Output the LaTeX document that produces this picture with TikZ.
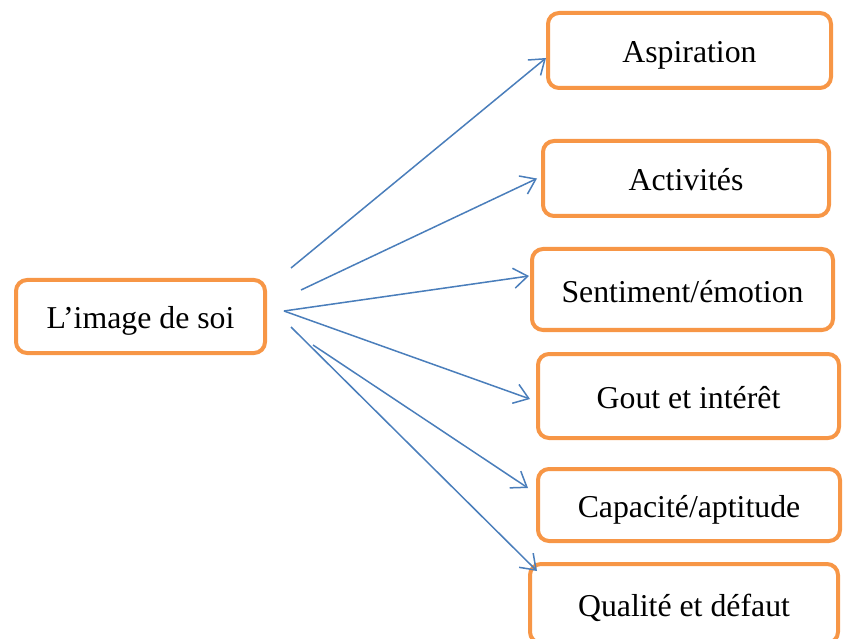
\documentclass[tikz,border=0pt]{standalone}
\usepackage{fontspec}
\setmainfont{Liberation Serif}
\usetikzlibrary{arrows.meta}
\definecolor{boxorange}{HTML}{F79646}
\definecolor{arrowblue}{HTML}{4A7EBB}
\begin{document}
\begin{tikzpicture}[x=1pt,y=-1pt,
  box/.style={draw=boxorange, line width=4pt, rounded corners=11pt, fill=white,
    inner sep=0pt, outer sep=0pt, align=center, text height=30pt, text depth=5pt,
    font=\fontsize{31.8}{38}\selectfont},
  arr/.style={draw=arrowblue, line width=1.5pt,
    -{Straight Barb[length=14pt,width=20pt,line width=1.5pt]}}]
\useasboundingbox (0,0) rectangle (844,639);
\node[box, minimum width=249pt, minimum height=73pt] (main) at (140.5,316.5) {L’image de soi};
\node[box, minimum width=283pt, minimum height=75pt] (asp) at (689.5,50.5) {Aspiration};
\node[box, minimum width=286pt, minimum height=75pt] (act) at (686,178.5) {Activités};
\node[box, minimum width=301pt, minimum height=81pt] (sen) at (682.5,289.5) {Sentiment/émotion};
\node[box, minimum width=301pt, minimum height=84pt] (gou) at (688.5,396) {Gout et intérêt};
\node[box, minimum width=302pt, minimum height=72pt] (cap) at (689,505) {Capacité/aptitude};
\node[box, minimum width=308pt, minimum height=79pt] (qua) at (684,603.5) {Qualité et défaut};
\coordinate (s1) at (291,268);
\coordinate (s2) at (301,290);
\coordinate (s3) at (284,311);
\coordinate (s5) at (313,345);
\coordinate (s6) at (291,327);
\draw[arr] (s1) -- ([xshift=-2pt,yshift=-7.5pt]asp.west);
\draw[arr] (s2) -- ([xshift=-6pt]act.west);
\draw[arr] (s3) -- ([xshift=-3pt,yshift=13.5pt]sen.west);
\draw[arr] (s3) -- ([xshift=-8pt,yshift=-3pt]gou.west);
\draw[arr] (s5) -- ([xshift=-10pt,yshift=17pt]cap.west);
\draw[arr] (s6) -- ([xshift=7pt,yshift=32.5pt]qua.west);
\end{tikzpicture}
\end{document}
